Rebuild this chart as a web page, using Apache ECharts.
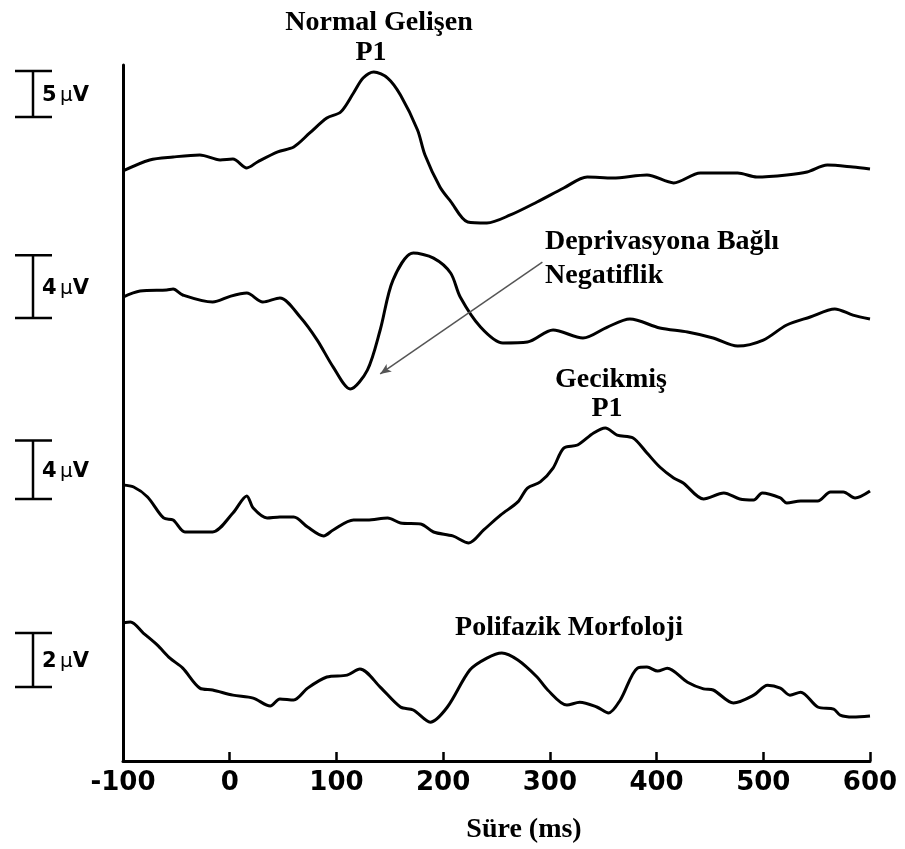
<!DOCTYPE html>
<html>
<head>
<meta charset="utf-8">
<script src="https://cdn.jsdelivr.net/npm/echarts@6/dist/echarts.min.js"></script>
<style>
  html, body { margin: 0; padding: 0; background: #fff; }
  #chart { width: 905px; height: 849px; }
</style>
</head>
<body>
<div id="chart"></div>
<script>
// time axis (ms)
const xTicks = [-100, 0, 100, 200, 300, 400, 500, 600]

// Normal Gelişen P1 (µV)
const t1 = [-100, -75, -53, -28, -9, 3, 16, 26, 45, 60, 75, 91, 104, 116, 125, 135, 148, 160, 176, 183, 197, 207, 223, 241, 263, 288, 313, 335, 359, 391, 416, 441, 476, 494, 522, 541, 560, 584, 600]
const v1 = [0, 1.2, 1.52, 1.74, 1.2, 1.3, 0.33, 0.98, 2.07, 2.61, 4.13, 5.76, 6.41, 8.48, 10.1, 10.76, 10.1, 8.26, 4.46, 1.74, -1.74, -3.3, -5.54, -5.65, -4.78, -3.37, -1.85, -0.65, -0.76, -0.43, -1.3, -0.22, -0.22, -0.65, -0.43, -0.11, 0.65, 0.43, 0.22]

// Deprivasyona bağlı negatiflik (µV)
const t2 = [-100, -84, -59, -53, -44, -16, 1, 16, 31, 47, 66, 82, 97, 113, 129, 141, 153, 172, 191, 207, 216, 235, 256, 279, 303, 331, 354, 375, 403, 429, 453, 476, 500, 522, 544, 567, 584, 600]
const v2 = [0, 0.38, 0.45, 0.51, 0.13, -0.32, 0.06, 0.25, -0.32, -0.06, -1.27, -2.74, -4.46, -5.86, -4.65, -2.1, 1.08, 2.8, 2.48, 1.53, 0, -1.91, -2.93, -2.87, -2.1, -2.61, -1.91, -1.4, -1.97, -2.23, -2.61, -3.12, -2.74, -1.78, -1.27, -0.76, -1.15, -1.4]

// Gecikmiş P1 (µV)
const t3 = [-100, -90, -77, -62, -53, -42, -28, -16, 3, 16, 22, 35, 47, 60, 73, 88, 97, 116, 129, 148, 160, 179, 191, 209, 224, 238, 254, 270, 279, 291, 303, 313, 326, 341, 352, 363, 378, 391, 403, 416, 425, 444, 463, 478, 491, 499, 516, 522, 535, 551, 563, 575, 586, 600]
const v3 = [0, -0.14, -0.82, -2.26, -2.4, -3.22, -3.22, -3.22, -1.92, -0.75, -1.58, -2.26, -2.19, -2.19, -2.88, -3.49, -3.08, -2.4, -2.4, -2.26, -2.6, -2.67, -3.22, -3.49, -3.97, -3.08, -2.05, -1.16, -0.21, 0.21, 1.16, 2.53, 2.74, 3.56, 3.9, 3.42, 3.22, 2.19, 1.23, 0.48, 0.14, -0.96, -0.55, -0.96, -1.03, -0.55, -0.89, -1.23, -1.1, -1.1, -0.48, -0.48, -0.89, -0.41]

// Polifazik morfoloji (µV)
const t4 = [-100, -93, -81, -68, -56, -44, -28, -16, 3, 22, 38, 47, 60, 73, 91, 110, 122, 141, 160, 172, 188, 204, 225, 241, 255, 270, 288, 298, 316, 328, 344, 355, 366, 382, 391, 401, 410, 429, 444, 453, 472, 491, 504, 516, 525, 535, 551, 566, 572, 584, 600]
const v4 = [0, 0.04, -0.37, -0.81, -1.3, -1.67, -2.41, -2.48, -2.67, -2.78, -3.07, -2.81, -2.85, -2.41, -2, -1.93, -1.7, -2.37, -3.11, -3.22, -3.67, -3.11, -1.74, -1.3, -1.11, -1.37, -2, -2.48, -3.04, -2.93, -3.11, -3.33, -2.85, -1.67, -1.63, -1.78, -1.67, -2.19, -2.44, -2.48, -2.96, -2.67, -2.3, -2.41, -2.67, -2.56, -3.11, -3.19, -3.41, -3.48, -3.44]

// calibration bars: bottom (µV), height (µV), label
const barLow = [5.87, -1.34, -0.96, -2.37]
const barSpan = [5, 4, 4, 2]
const barLabels = ['5', '4', '4', '2']

// arrow for Deprivasyona Bağlı Negatiflik, in trace-2 units [ms, µV]
const arrowFrom = [293, 2.23]
const arrowTo = [141, -4.9]

const traces = [[t1, v1], [t2, v2], [t3, v3], [t4, v4]]

// layout of the four stacked panels
const gridTop = [65, 235, 420, 585]
const gridHeight = [170, 185, 165, 176]
const yMin = [-6.96, -7.83, -6.85, -5.11]
const yMax = [11.52, 3.95, 4.45, 1.41]

const chart = echarts.init(document.getElementById('chart'))

const grids = gridTop.map((top, i) => ({
  left: 123,
  width: 747,
  top: top,
  height: gridHeight[i],
  containLabel: false,
  outerBoundsMode: 'none'
}))

const xAxes = gridTop.map((_, i) => {
  const last = i === 3
  return {
    type: 'value',
    gridIndex: i,
    min: xTicks[0],
    max: xTicks[xTicks.length - 1],
    interval: 100,
    show: last,
    axisLine: { show: last, onZero: false, lineStyle: { color: '#000', width: 3 } },
    axisTick: { show: last, inside: true, length: 9, lineStyle: { color: '#000', width: 2.5 } },
    axisLabel: {
      show: last,
      margin: 9,
      color: '#000',
      fontFamily: 'DejaVu Sans',
      fontWeight: 'bold',
      fontSize: 26,
      formatter: (v) => String(v)
    },
    splitLine: { show: false }
  }
})

const yAxes = gridTop.map((_, i) => ({
  type: 'value',
  gridIndex: i,
  min: yMin[i],
  max: yMax[i],
  axisLine: { show: true, onZero: false, lineStyle: { color: '#000', width: 3 } },
  axisTick: { show: false },
  axisLabel: { show: false },
  splitLine: { show: false }
}))

const lineSeries = traces.map(([ts, vs], i) => {
  const s = {
    type: 'line',
    xAxisIndex: i,
    yAxisIndex: i,
    data: ts.map((t, k) => [t, vs[k]]),
    showSymbol: false,
    symbol: 'none',
    smooth: 0.3,
    lineStyle: { color: '#000', width: 3 },
    silent: true,
    z: 3
  }
  if (i === 1) {
    s.markLine = {
      silent: true,
      symbol: ['none', 'arrow'],
      symbolSize: [7, 11],
      label: { show: false },
      lineStyle: { color: '#555', width: 1.5, type: 'solid' },
      data: [[{ coord: arrowFrom }, { coord: arrowTo }]]
    }
  }
  return s
})

const barSeries = barLow.map((lo, i) => ({
  type: 'custom',
  xAxisIndex: i,
  yAxisIndex: i,
  clip: false,
  silent: true,
  data: [[lo, lo + barSpan[i], barLabels[i]]],
  renderItem: function (params, api) {
    const top = api.coord([-100, api.value(1)])
    const bot = api.coord([-100, api.value(0)])
    const x = top[0] - 90
    const ls = { stroke: '#000', lineWidth: 2.5 }
    return {
      type: 'group',
      children: [
        { type: 'line', shape: { x1: x, y1: top[1], x2: x, y2: bot[1] }, style: ls },
        { type: 'line', shape: { x1: x - 18, y1: top[1], x2: x + 19, y2: top[1] }, style: ls },
        { type: 'line', shape: { x1: x - 18, y1: bot[1], x2: x + 19, y2: bot[1] }, style: ls },
        {
          type: 'text',
          x: x + 9,
          y: (top[1] + bot[1]) / 2 + 2,
          style: {
            text: '{n|' + api.value(2) + '} {u|µ}{n|V}',
            verticalAlign: 'middle',
            align: 'left',
            rich: {
              n: { fontFamily: 'DejaVu Sans', fontWeight: 'bold', fontSize: 21, fill: '#000' },
              u: { fontFamily: 'DejaVu Sans', fontWeight: 'normal', fontSize: 20, fill: '#000' }
            }
          }
        }
      ]
    }
  }
}))

// bold serif annotations
const notes = [
  { text: 'Normal Gelişen', x: 379, y: 23, align: 'center' },
  { text: 'P1', x: 371, y: 53, align: 'center' },
  { text: 'Deprivasyona Bağlı', x: 545, y: 242, align: 'left' },
  { text: 'Negatiflik', x: 545, y: 276, align: 'left' },
  { text: 'Gecikmiş', x: 611, y: 380, align: 'center' },
  { text: 'P1', x: 607, y: 409, align: 'center' },
  { text: 'Polifazik Morfoloji', x: 569, y: 628, align: 'center' },
  { text: 'Süre (ms)', x: 524, y: 830, align: 'center' }
]

const option = {
  animation: false,
  backgroundColor: '#fff',
  grid: grids,
  xAxis: xAxes,
  yAxis: yAxes,
  series: lineSeries.concat(barSeries),
  graphic: notes.map((n) => ({
    type: 'text',
    x: n.x,
    y: n.y,
    silent: true,
    style: {
      text: n.text,
      align: n.align,
      verticalAlign: 'middle',
      fontFamily: 'Liberation Serif',
      fontWeight: 'bold',
      fontSize: 28,
      fill: '#000'
    }
  }))
}

chart.setOption(option)
</script>
</body>
</html>
